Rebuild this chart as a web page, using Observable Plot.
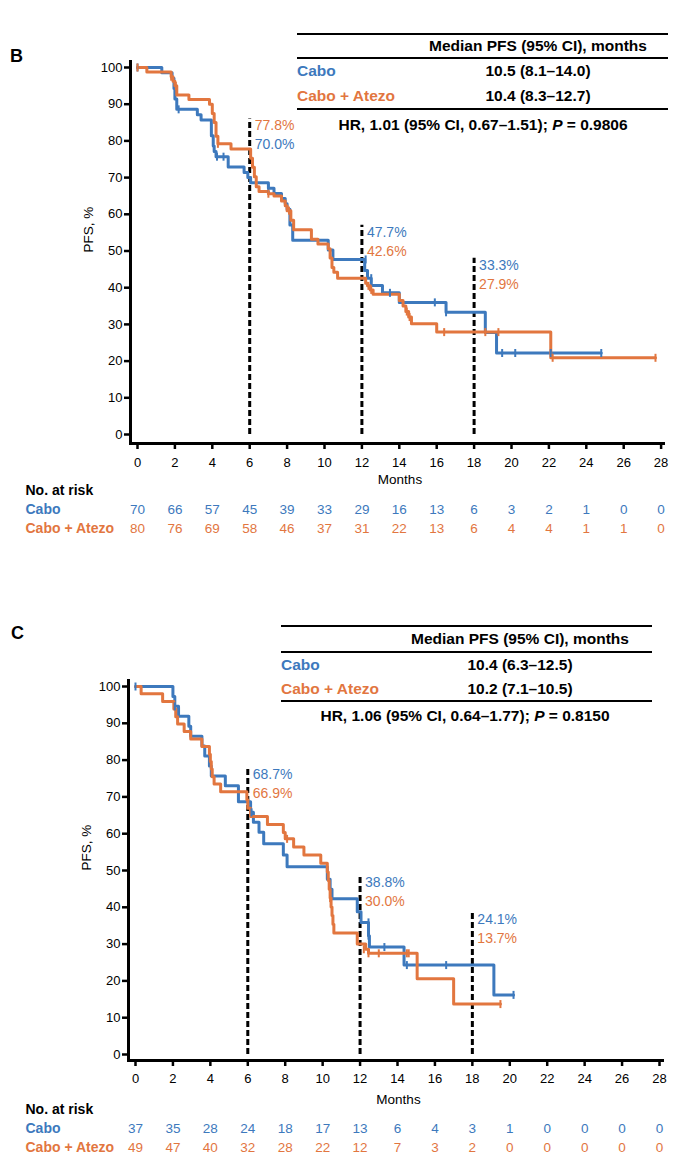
<!DOCTYPE html>
<html><head><meta charset="utf-8">
<script src="https://cdn.jsdelivr.net/npm/d3@7"></script>
<script src="https://cdn.jsdelivr.net/npm/@observablehq/plot@0.6"></script>
<style>
body{margin:0;background:#fff;}
#page{position:relative;width:677px;height:1163px;overflow:hidden;font-family:"Liberation Sans",Arial,sans-serif;}
.abs{position:absolute;white-space:nowrap;line-height:1;}
.pl{position:absolute;left:0;}
.hl{position:absolute;height:2px;background:#000;}
</style></head><body><div id="page"></div>
<script>
// ---------- DATA ----------
const groups = ["Cabo", "Cabo + Atezo"];
const xTicks = [0,2,4,6,8,10,12,14,16,18,20,22,24,26,28];
const yTicks = [0,10,20,30,40,50,60,70,80,90,100];
const landmarks = [6, 12, 18];
const riskRows = ["No. at risk", "Cabo", "Cabo + Atezo"];

// Panel B
const bCaboT = [0,1.3,1.85,1.95,2.0,2.1,3.2,3.4,3.95,4.05,4.1,4.2,4.85,5.7,5.9,6.05,7.0,7.3,7.7,7.9,8.0,8.15,8.3,10.2,10.45,12.15,12.3,12.5,13.1,14.0,16.5,18.6,19.2,24.8];
const bCaboS = [100,98.6,97.1,94.3,91.4,88.6,87.1,85.7,81.4,78.6,77.1,75.7,72.9,71.4,70.0,68.6,67.1,65.7,64.3,62.9,61.4,57.1,52.9,50.3,47.7,44.7,42.6,40.6,38.6,36.0,33.3,27.8,22.2,22.2];
const bCaboCensT = [0,2.2,4.25,4.6,7.0,12.2,12.5,13.5,15.9,16.5,19.5,20.2,22.1,24.8];
const bCaboCensS = [100,88.6,75.7,75.7,67.1,47.7,42.6,38.6,36.0,33.3,22.2,22.2,22.2,22.2];
const bCaT = [0,0.5,1.8,1.9,2.0,2.1,2.75,3.85,4.0,4.1,4.2,4.3,5.0,6.05,6.15,6.25,6.35,6.5,7.0,7.3,7.7,7.9,8.0,8.2,8.35,9.3,9.65,10.2,10.3,10.4,10.5,10.7,12.2,12.3,12.45,12.6,14.0,14.2,14.35,14.5,14.65,16.0,22.1,27.7];
const bCaS = [100,98.75,97.5,96.25,95.0,92.5,91.25,90.0,87.5,85.0,81.25,79.2,77.8,75.3,72.8,70.2,67.5,66.2,65.6,65.0,63.6,62.3,61.0,58.4,55.8,53.2,51.9,50.6,48.1,45.5,44.2,42.6,41.2,40.5,39.4,38.2,36.5,35.0,33.5,32.0,30.2,27.9,20.9,20.9];
const bCaCensT = [0,1.8,2.05,4.3,7.0,8.1,12.35,12.5,14.4,14.55,16.4,18.6,19.3,22.2,27.7];
const bCaCensS = [100,97.5,95.0,79.2,65.6,61.0,40.5,39.4,33.5,32.0,27.9,27.9,27.9,20.9,20.9];
const bCaboAt = [70.0, 47.7, 33.3];
const bCaAt = [77.8, 42.6, 27.9];
const bDashTop = [86, 57, 48];
const bRiskCabo = [70,66,57,45,39,33,29,16,13,6,3,2,1,0,0];
const bRiskCa = [80,76,69,58,46,37,31,22,13,6,4,4,1,1,0];
const bMedian = ["10.5 (8.1–14.0)", "10.4 (8.3–12.7)"];
const bHR = ["HR, 1.01 (95% CI, 0.67–1.51); ", "0.9806"];

// Panel C
const cCaboT = [0,2.0,2.1,2.3,2.85,2.95,3.55,3.7,3.95,4.05,4.8,5.5,6.15,6.3,6.6,6.85,7.9,8.1,10.25,10.4,10.5,11.85,12.05,12.45,12.5,14.35,19.15,20.2];
const cCaboS = [100,97.3,94.6,91.9,89.2,86.5,83.8,81.1,78.4,75.7,73.0,68.7,65.8,63.1,60.4,57.3,54.2,51.0,47.6,44.9,42.3,38.8,35.9,32.3,29.2,24.3,16.2,16.2];
const cCaboCensT = [0,2.1,6.2,12.45,12.45,13.3,14.5,16.6,20.2];
const cCaboCensS = [100,94.6,65.8,35.9,32.3,29.2,24.3,24.3,16.2];
const cCaT = [0,0.3,1.45,2.05,2.15,2.25,2.6,2.95,3.55,3.95,4.0,4.05,4.1,4.2,4.55,5.95,6.0,6.15,7.05,7.9,8.0,8.45,9.0,9.9,10.25,10.3,10.35,10.4,10.45,10.5,10.55,10.6,11.85,12.3,12.45,15.05,17.0,19.5];
const cCaS = [100,98.0,95.9,93.9,91.8,89.8,87.8,85.7,83.7,81.6,79.6,77.6,75.5,73.5,71.4,69.2,66.9,64.7,62.5,60.3,58.6,56.4,54.2,52.0,49.6,47.3,44.9,42.5,40.1,37.8,35.4,33.0,30.0,28.6,27.5,20.6,13.7,13.7];
const cCaCensT = [8.1,10.4,12.2,12.45,13.0,14.5,14.6,19.5];
const cCaCensS = [58.6,42.5,28.6,27.5,27.5,27.5,27.5,13.7];
const cCaboAt = [68.7, 38.8, 24.1];
const cCaAt = [66.9, 30.0, 13.7];
const cDashTop = [78, 48.6, 38.5];
const cRiskCabo = [37,35,28,24,18,17,13,6,4,3,1,0,0,0,0];
const cRiskCa = [49,47,40,32,28,22,12,7,3,2,0,0,0,0,0];
const cMedian = ["10.4 (6.3–12.5)", "10.2 (7.1–10.5)"];
const cHR = ["HR, 1.06 (95% CI, 0.64–1.77); ", "0.8150"];

// ---------- STYLE ----------
const BLUE = "#3d79bd", ORANGE = "#e2763f";
const FONT = "'Liberation Sans', Arial, sans-serif";
const SVGSTYLE = `font-family:${FONT};background:transparent;overflow:visible;color:#000;`;
const page = document.getElementById("page");

function rows(t, s, g) { return t.map((d, i) => ({t: d, s: s[i], g})); }
const tickSymbol = {draw(ctx, size) { const r = Math.sqrt(size / Math.PI); ctx.moveTo(0, -r); ctx.lineTo(0, r); }};

function kmPlot(p) {
  const top = p.top, H = p.svgH;
  const curves = [...rows(p.caboT, p.caboS, "Cabo"), ...rows(p.caT, p.caS, "Cabo + Atezo")];
  const cens = [...rows(p.caboCT, p.caboCS, "Cabo"), ...rows(p.caCT, p.caCS, "Cabo + Atezo")];
  const dash = landmarks.map((t, i) => ({t, top: p.dashTop[i]}));
  const labels = landmarks.flatMap((t, i) => {
    const a = {t, top: p.dashTop[i], v: p.caboAt[i], g: "Cabo"};
    const b = {t, top: p.dashTop[i], v: p.caAt[i], g: "Cabo + Atezo"};
    const [hi, lo] = a.v >= b.v ? [a, b] : [b, a];
    hi.row = 0; lo.row = 1;
    return [hi, lo];
  });
  const lblOpts = {x: "t", y: "top", text: d => d.v.toFixed(1) + "%", fill: "g", dx: 5, textAnchor: "start", fontSize: 14};
  return Plot.plot({
    width: 677, height: H,
    marginLeft: p.axisLeft, marginRight: 677 - p.axisRight,
    marginTop: p.axisTop - top, marginBottom: H - (p.axisBottom - top),
    x: {domain: [0, 28], range: [p.x0, p.x28]},
    y: {domain: [0, 100], range: [p.y0 - top, p.y100 - top]},
    color: {domain: groups, range: [BLUE, ORANGE]},
    style: SVGSTYLE,
    marks: [
      Plot.frame({anchor: "left", strokeWidth: 3}),
      Plot.frame({anchor: "bottom", strokeWidth: 3}),
      Plot.axisY({ticks: yTicks, tickSize: 6, tickPadding: 2, strokeWidth: 2.5, fontSize: 13, label: null}),
      Plot.axisX({ticks: xTicks, tickSize: 6, tickPadding: p.xPad, strokeWidth: 2.5, fontSize: 13, label: null}),
      Plot.text(["Months"], {frameAnchor: "bottom", dy: p.monthsDy, dx: 3, fontSize: 13.5}),
      Plot.text(["PFS, %"], {frameAnchor: "left", rotate: -90, dx: -42, fontSize: 13.5}),
      Plot.ruleX(dash, {x: "t", y1: 0, y2: "top", strokeWidth: 3, strokeDasharray: "6,3"}),
      Plot.line(curves, {x: "t", y: "s", z: "g", stroke: "g", curve: "step-after", strokeWidth: 3}),
      Plot.dot(cens, {x: "t", y: "s", stroke: "g", fill: "none", symbol: tickSymbol, r: 4, strokeWidth: 2}),
      Plot.text(labels.filter(d => d.row === 0), {...lblOpts, dy: 7}),
      Plot.text(labels.filter(d => d.row === 1), {...lblOpts, dy: 26})
    ]
  });
}

function riskPlot(p) {
  const data = [
    ...xTicks.map((t, i) => ({t, n: p.riskCabo[i], g: "Cabo"})),
    ...xTicks.map((t, i) => ({t, n: p.riskCa[i], g: "Cabo + Atezo"}))
  ];
  return Plot.plot({
    width: 677, height: 62, marginLeft: 25, marginRight: 10, marginTop: 0, marginBottom: 0,
    x: {domain: [0, 28], range: [p.x0, p.x28], axis: null},
    y: {type: "point", domain: riskRows, range: [12, 50], padding: 0, axis: null},
    color: {domain: groups, range: [BLUE, ORANGE]},
    style: SVGSTYLE,
    marks: [
      Plot.text(data, {x: "t", y: "g", text: "n", fill: "g", fontSize: 13.5}),
      Plot.text(riskRows.slice(0, 1), {y: d => d, text: d => d, frameAnchor: "left", textAnchor: "start", fontWeight: "bold", fontSize: 14, fill: "black"}),
      Plot.text(groups, {y: d => d, text: d => d, frameAnchor: "left", textAnchor: "start", fontWeight: "bold", fontSize: 14, fill: d => d})
    ]
  });
}

function addText(html, x, y, opts = {}) {
  const d = document.createElement("div");
  d.className = "abs";
  d.innerHTML = html;
  d.style.left = x + "px"; d.style.top = y + "px";
  d.style.fontSize = (opts.size || 15.5) + "px";
  d.style.fontWeight = opts.weight || "bold";
  d.style.color = opts.color || "#000";
  d.style.transform = opts.center ? "translate(-50%,-50%)" : "translate(0,-50%)";
  page.appendChild(d);
}
function addLine(x0, x1, y) {
  const d = document.createElement("div");
  d.className = "hl";
  d.style.left = x0 + "px"; d.style.width = (x1 - x0) + "px"; d.style.top = (y - 1) + "px";
  page.appendChild(d);
}

function panel(p) {
  addText(p.letter, p.letterX, p.letterY, {size: 18});
  const s1 = kmPlot(p); s1.classList.add("pl"); s1.style.top = p.top + "px"; page.appendChild(s1);
  const s2 = riskPlot(p); s2.classList.add("pl"); s2.style.top = p.riskTop + "px"; page.appendChild(s2);
  // summary table
  const t = p.table;
  t.lines.forEach(y => addLine(t.x0, t.x1, y));
  addText("Median PFS (95% CI), months", t.cx, t.headY, {center: true});
  addText(groups[0], t.x0, t.r1Y, {color: BLUE});
  addText(groups[1], t.x0, t.r2Y, {color: ORANGE});
  addText(p.median[0], t.cx, t.r1Y, {center: true});
  addText(p.median[1], t.cx, t.r2Y, {center: true});
  addText(p.hr[0] + "<i>P</i> = " + p.hr[1], t.hrX, t.hrY, {center: true});
}

panel({
  letter: "B", letterX: 10, letterY: 56,
  top: 0, svgH: 500, riskTop: 478,
  x0: 137, x28: 660.6, y0: 434, y100: 67,
  axisLeft: 130, axisBottom: 443, axisTop: 61, axisRight: 663, monthsDy: 40, xPad: 8,
  caboT: bCaboT, caboS: bCaboS, caT: bCaT, caS: bCaS,
  caboCT: bCaboCensT, caboCS: bCaboCensS, caCT: bCaCensT, caCS: bCaCensS,
  caboAt: bCaboAt, caAt: bCaAt, dashTop: bDashTop,
  riskCabo: bRiskCabo, riskCa: bRiskCa, median: bMedian, hr: bHR,
  table: {x0: 297, x1: 668, lines: [34, 58, 108.5], cx: 538, headY: 46, r1Y: 71, r2Y: 96, hrX: 483, hrY: 125}
});
panel({
  letter: "C", letterX: 11, letterY: 633,
  top: 580, svgH: 530, riskTop: 1097,
  x0: 135, x28: 659, y0: 1054, y100: 686,
  axisLeft: 128, axisBottom: 1060, axisTop: 680, axisRight: 662, monthsDy: 43, xPad: 7,
  caboT: cCaboT, caboS: cCaboS, caT: cCaT, caS: cCaS,
  caboCT: cCaboCensT, caboCS: cCaboCensS, caCT: cCaCensT, caCS: cCaCensS,
  caboAt: cCaboAt, caAt: cCaAt, dashTop: cDashTop,
  riskCabo: cRiskCabo, riskCa: cRiskCa, median: cMedian, hr: cHR,
  table: {x0: 281, x1: 652, lines: [626, 652, 701], cx: 520, headY: 639, r1Y: 665, r2Y: 689, hrX: 465, hrY: 716}
});
</script></body></html>
